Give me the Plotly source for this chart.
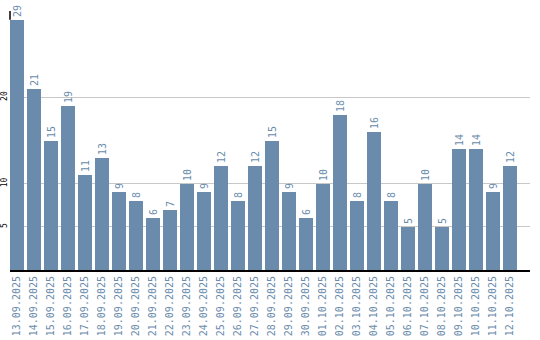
import plotly.graph_objects as go

dates = ["13.09.2025","14.09.2025","15.09.2025","16.09.2025","17.09.2025","18.09.2025",
         "19.09.2025","20.09.2025","21.09.2025","22.09.2025","23.09.2025","24.09.2025",
         "25.09.2025","26.09.2025","27.09.2025","28.09.2025","29.09.2025","30.09.2025",
         "01.10.2025","02.10.2025","03.10.2025","04.10.2025","05.10.2025","06.10.2025",
         "07.10.2025","08.10.2025","09.10.2025","10.10.2025","11.10.2025","12.10.2025"]
values = [29,21,15,19,11,13,9,8,6,7,10,9,12,8,12,15,9,6,10,18,8,16,8,5,10,5,14,14,9,12]
ytick_vals = [5, 10, 20]
y_max = 30

bar_color = "#6a8bab"
font_mono = "DejaVu Sans Mono"

fig = go.Figure(go.Bar(
    x=dates, y=values,
    marker=dict(color=bar_color, line=dict(width=0)),
    width=0.8235,
    text=[str(v) for v in values],
    textposition="outside",
    textangle=-90,
    textfont=dict(family=font_mono, size=10, color=bar_color),
    cliponaxis=False,
))

# visible part of the y-axis line (the rest is hidden behind the first bar)
fig.add_shape(type="line", xref="x domain", yref="y",
              x0=0, x1=0, y0=values[0], y1=y_max,
              line=dict(color="black", width=1.5), layer="above")

fig.update_layout(
    width=540, height=340,
    margin=dict(l=10, r=10, t=11, b=70, autoexpand=False),
    plot_bgcolor="white", paper_bgcolor="white",
    showlegend=False,
    bargap=0,
)
fig.update_xaxes(
    type="category",
    range=[-0.4118, 30.18],
    tickangle=-90,
    tickfont=dict(family=font_mono, size=10, color=bar_color),
    showline=True, linecolor="black", linewidth=2,
    showgrid=False, ticks="", automargin=False,
)
fig.update_yaxes(
    range=[0, y_max],
    tickvals=ytick_vals,
    tickangle=-90,
    tickfont=dict(family=font_mono, size=8, color="black"),
    showgrid=True, gridcolor="#c8c8c8", gridwidth=1,
    showline=False,
    zeroline=False, ticks="", ticklabelstandoff=0,
    automargin=False,
)

fig.write_html("out.html")
